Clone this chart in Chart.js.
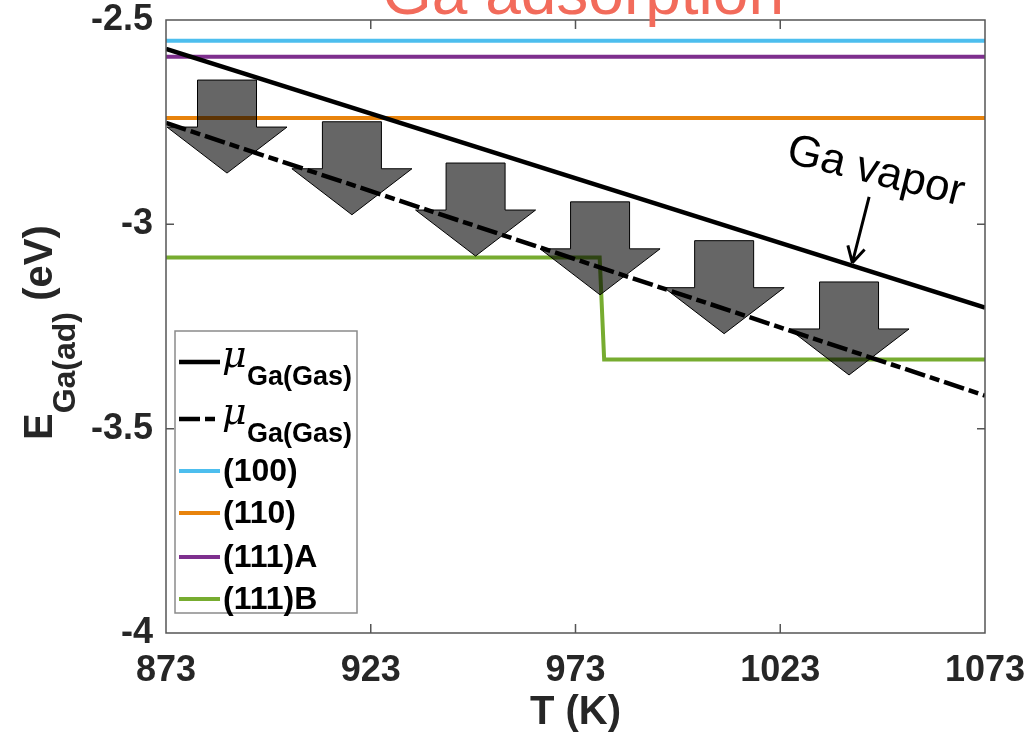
<!DOCTYPE html>
<html>
<head>
<meta charset="utf-8">
<script src="https://cdn.jsdelivr.net/npm/chart.js@4.4.0/dist/chart.umd.min.js"></script>
<style>
  html, body { margin: 0; padding: 0; background: #fff; }
  #wrap { width: 1029px; height: 745px; position: relative; }
</style>
</head>
<body>
<div id="wrap"><canvas id="chart"></canvas></div>
<script>
// data
const tempRange = [873, 1073];
const xTicks = [873, 923, 973, 1023, 1073];
const yTicks = [-4, -3.5, -3, -2.5];
const yTickLabels = ['-4', '-3.5', '-3', '-2.5'];
const muGasSolid = [-2.571, -3.204];
const muGasDash = [-2.752, -3.419];
const e100 = [-2.551, -2.551];
const e110 = [-2.740, -2.740];
const e111A = [-2.590, -2.590];
const e111BTemps = [873, 978.9, 980.0, 1073];
const e111B = [-3.081, -3.081, -3.331, -3.331];
// grey block arrows: temperature at centre, energy at top
const arrowT = [887.9, 918.4, 948.6, 979.0, 1009.3, 1039.8];
const arrowE = [-2.647, -2.749, -2.850, -2.945, -3.040, -3.141];

const FONT = "'Liberation Sans', Arial, Helvetica, sans-serif";
const INK = '#262626';

function pts(xs, ys) {
    return xs.map((t, i) => ({ x: t, y: ys[i] }));
}

// no extra room for overhanging tick labels, the plot box is fixed
function noPad(s) {
    s.paddingTop = 0;
    s.paddingBottom = 0;
    s.paddingLeft = 0;
    s.paddingRight = 0;
}

const dashPattern = [21, 5, 10, 5];

const decor = {
    id: 'decor',
    afterDatasetsDraw(chart) {
        const { ctx, chartArea: a, scales: { x, y } } = chart;
        ctx.save();

        // block arrows (semi transparent, on top of the lines)
        ctx.fillStyle = 'rgba(0,0,0,0.6)';
        ctx.strokeStyle = '#000';
        ctx.lineWidth = 1;
        arrowT.forEach((t, i) => {
            const cx = x.getPixelForValue(t);
            const top = y.getPixelForValue(arrowE[i]);
            const sw = 29.5, sh = 47, hw = 60, hh = 46;
            ctx.beginPath();
            ctx.moveTo(cx - sw, top);
            ctx.lineTo(cx + sw, top);
            ctx.lineTo(cx + sw, top + sh);
            ctx.lineTo(cx + hw, top + sh);
            ctx.lineTo(cx, top + sh + hh);
            ctx.lineTo(cx - hw, top + sh);
            ctx.lineTo(cx - sw, top + sh);
            ctx.closePath();
            ctx.fill();
            ctx.stroke();
        });

        // frame with inward ticks
        ctx.strokeStyle = '#555';
        ctx.lineWidth = 1.5;
        ctx.strokeRect(a.left, a.top, a.right - a.left, a.bottom - a.top);
        ctx.beginPath();
        xTicks.slice(1, -1).forEach(v => {
            const px = x.getPixelForValue(v);
            ctx.moveTo(px, a.bottom); ctx.lineTo(px, a.bottom - 9);
            ctx.moveTo(px, a.top); ctx.lineTo(px, a.top + 9);
        });
        yTicks.slice(1, -1).forEach(v => {
            const py = y.getPixelForValue(v);
            ctx.moveTo(a.left, py); ctx.lineTo(a.left + 8, py);
            ctx.moveTo(a.right, py); ctx.lineTo(a.right - 8, py);
        });
        ctx.stroke();

        // Ga vapor label and pointer
        const tipX = x.getPixelForValue(1040.6), tipY = y.getPixelForValue(-3.094);
        const tailX = x.getPixelForValue(1044.7), tailY = y.getPixelForValue(-2.933);
        ctx.strokeStyle = '#000';
        ctx.lineWidth = 3;
        ctx.beginPath();
        ctx.moveTo(tailX, tailY);
        ctx.lineTo(tipX, tipY);
        const ang = Math.atan2(tipY - tailY, tipX - tailX);
        [0.5, -0.5].forEach(d => {
            ctx.moveTo(tipX, tipY);
            ctx.lineTo(tipX - 18 * Math.cos(ang + d), tipY - 18 * Math.sin(ang + d));
        });
        ctx.stroke();

        ctx.save();
        ctx.translate(x.getPixelForValue(1046.3), y.getPixelForValue(-2.872));
        ctx.rotate(14 * Math.PI / 180);
        ctx.fillStyle = '#000';
        ctx.font = '44px ' + FONT;
        ctx.textAlign = 'center';
        ctx.textBaseline = 'middle';
        ctx.fillText('Ga vapor', 0, 0);
        ctx.restore();

        // legend
        const lx = 175, ly = 331, lw = 182, lh = 282;
        ctx.fillStyle = '#fff';
        ctx.fillRect(lx, ly, lw, lh);
        ctx.strokeStyle = '#8a8a8a';
        ctx.lineWidth = 1.5;
        ctx.strokeRect(lx, ly, lw, lh);
        const rowY = [31, 88, 140, 182, 226, 268];
        chart.data.datasets.forEach((ds, i) => {
            const ry = ly + rowY[i];
            ctx.strokeStyle = ds.borderColor;
            ctx.lineWidth = ds.borderWidth;
            ctx.setLineDash(ds.borderDash || []);
            ctx.beginPath();
            ctx.moveTo(lx + 4, ry);
            ctx.lineTo(lx + 45, ry);
            ctx.stroke();
            ctx.setLineDash([]);
            ctx.fillStyle = '#000';
            ctx.textAlign = 'left';
            if (ds.labelSub) {
                ctx.textBaseline = 'alphabetic';
                ctx.font = 'italic 38px "DejaVu Serif", "Liberation Serif", serif';
                ctx.fillText(ds.label, lx + 47, ry + 5);
                ctx.font = 'bold 27px ' + FONT;
                ctx.fillText(ds.labelSub, lx + 72, ry + 23);
            } else {
                ctx.textBaseline = 'middle';
                ctx.font = 'bold 32px ' + FONT;
                ctx.fillText(ds.label, lx + 48, ry + 1);
            }
        });

        ctx.restore();
    },
    afterDraw(chart) {
        const { ctx } = chart;
        ctx.save();
        // title, cut at the top edge as in the figure
        ctx.fillStyle = '#F26B5B';
        ctx.font = '64px ' + FONT;
        ctx.textAlign = 'center';
        ctx.textBaseline = 'alphabetic';
        ctx.fillText('Ga adsorption', 583, 14);

        // y axis title with subscript
        ctx.translate(52, 440);
        ctx.rotate(-Math.PI / 2);
        ctx.fillStyle = INK;
        ctx.textAlign = 'left';
        ctx.font = 'bold 40px ' + FONT;
        ctx.fillText('E', 0, 0);
        let w = ctx.measureText('E').width;
        ctx.font = 'bold 32px ' + FONT;
        ctx.fillText('Ga(ad)', w, 23);
        w += ctx.measureText('Ga(ad)').width;
        ctx.font = 'bold 40px ' + FONT;
        ctx.fillText(' (eV)', w, 0);
        ctx.restore();
    }
};

new Chart(document.getElementById('chart').getContext('2d'), {
    type: 'line',
    data: {
        datasets: [
            {
                label: 'μ', labelSub: 'Ga(Gas)',
                data: pts(tempRange, muGasSolid),
                borderColor: '#000', borderWidth: 4.5
            },
            {
                label: 'μ', labelSub: 'Ga(Gas)',
                data: pts(tempRange, muGasDash),
                borderColor: '#000', borderWidth: 4.5, borderDash: dashPattern
            },
            {
                label: '(100)',
                data: pts(tempRange, e100),
                borderColor: '#4DBEEE', borderWidth: 4
            },
            {
                label: '(110)',
                data: pts(tempRange, e110),
                borderColor: '#E8830C', borderWidth: 4
            },
            {
                label: '(111)A',
                data: pts(tempRange, e111A),
                borderColor: '#7E2F8E', borderWidth: 4
            },
            {
                label: '(111)B',
                data: pts(e111BTemps, e111B),
                borderColor: '#77AC30', borderWidth: 4
            }
        ]
    },
    options: {
        responsive: true,
        maintainAspectRatio: false,
        animation: false,
        elements: { point: { radius: 0 }, line: { tension: 0 } },
        layout: { padding: { left: 0, top: 20, right: 44, bottom: 0 } },
        plugins: {
            legend: { display: false },
            tooltip: { enabled: false }
        },
        scales: {
            x: {
                type: 'linear',
                min: tempRange[0],
                max: tempRange[1],
                afterBuildTicks: s => { s.ticks = xTicks.map(v => ({ value: v })); },
                afterFit: s => { s.height = 112; noPad(s); },
                grid: { display: false, drawTicks: false },
                border: { display: false },
                ticks: {
                    padding: 16,
                    color: INK,
                    font: { family: FONT, size: 36, weight: 'bold' },
                    maxRotation: 0,
                    callback: v => String(v)
                },
                title: {
                    display: true,
                    text: 'T (K)',
                    color: INK,
                    font: { family: FONT, size: 40, weight: 'bold' },
                    padding: { top: 0, bottom: 8 }
                }
            },
            y: {
                type: 'linear',
                min: yTicks[0],
                max: yTicks[yTicks.length - 1],
                afterBuildTicks: s => { s.ticks = yTicks.map(v => ({ value: v })); },
                afterFit: s => { s.width = 166; noPad(s); },
                grid: { display: false, drawTicks: false },
                border: { display: false },
                ticks: {
                    padding: 13,
                    color: INK,
                    font: { family: FONT, size: 36, weight: 'bold' },
                    callback: v => {
                        const i = yTicks.indexOf(v);
                        return i >= 0 ? yTickLabels[i] : String(v);
                    }
                }
            }
        }
    },
    plugins: [decor]
});
</script>
</body>
</html>
